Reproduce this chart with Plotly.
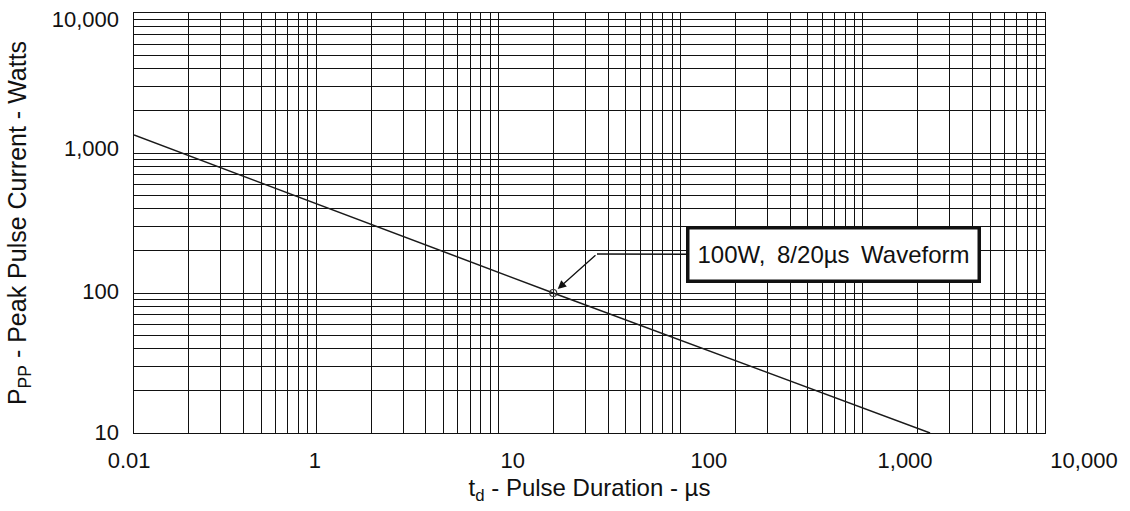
import plotly.graph_objects as go

# Curve data (pulse duration in µs, peak pulse power in W)
t_us = [0.1, 20, 2340]
p_w = [1345, 100, 10]

# Marked operating point
mark_t = [20]
mark_p = [100]

# Tick labels as printed, and where they sit along each axis
x_tick_text = ["0.01", "1", "10", "100", "1,000", "10,000"]
x_tick_at = [0.094, 0.984, 12.0, 143, 1706, 16370]
y_tick_text = ["10,000", "1,000", "100", "10"]
y_tick_at = [9000, 1085, 103, 10.2]

label_text = "100W,\u2009 8/20µs\u2009 Waveform"

FONT = "Liberation Sans, Arial, sans-serif"
W, H = 1130, 511
ML, MR, MT, MB = 100, 20, 7, 78
FRAME_L, FRAME_R = 134, 1045
plot_w = W - ML - MR
d0 = (FRAME_L - ML) / plot_w
d1 = (FRAME_R - ML) / plot_w
dec_px = (FRAME_R - FRAME_L) / 5.0
x2_lo = -1 - (FRAME_L - ML) / dec_px
x2_hi = -1 + (W - MR - FRAME_L) / dec_px

fig = go.Figure()
fig.add_trace(go.Scatter(x=t_us, y=p_w, mode="lines",
                         line=dict(color="#1a1a1a", width=1.5),
                         hoverinfo="skip", showlegend=False))
fig.add_trace(go.Scatter(x=mark_t, y=mark_p, mode="markers",
                         marker=dict(symbol="circle-open", size=7,
                                     color="#333", line=dict(width=1.2)),
                         hoverinfo="skip", showlegend=False))
# dummy traces so label axes are drawn
fig.add_trace(go.Scatter(x=[None], y=[None], xaxis="x2", yaxis="y3",
                         showlegend=False, hoverinfo="skip"))
fig.add_trace(go.Scatter(x=[None], y=[None], xaxis="x", yaxis="y2",
                         showlegend=False, hoverinfo="skip"))

grid = dict(showgrid=True, gridcolor="#111", gridwidth=1,
            showline=True, linecolor="#111", linewidth=1, mirror=True,
            ticks="", showticklabels=False, zeroline=False, dtick="D1")

tail_lx, tail_ly = 1.541, 2.279  # log coords of the arrow bend

fig.update_layout(
    width=W, height=H,
    margin=dict(l=ML, r=MR, t=MT, b=MB),
    paper_bgcolor="white", plot_bgcolor="rgba(0,0,0,0)",
    font=dict(family=FONT, color="#111"),
    xaxis=dict(type="log", range=[-1, 4], domain=[d0, d1], anchor="y", **grid,
               title=dict(text="t<sub>d</sub> - Pulse Duration - µs",
                          font=dict(size=24), standoff=46)),
    yaxis=dict(type="log", range=[1, 4], domain=[0, 1], anchor="x", **grid,
               title=dict(text="P<sub>PP</sub> - Peak Pulse Current - Watts",
                          font=dict(size=25), standoff=99)),
    xaxis2=dict(type="log", range=[x2_lo, x2_hi], domain=[0, 1],
                anchor="y3", side="bottom", showgrid=False, showline=False,
                zeroline=False, ticks="", tickmode="array",
                tickvals=x_tick_at, ticktext=x_tick_text,
                tickfont=dict(size=22), ticklabelstandoff=12),
    yaxis2=dict(type="log", range=[1, 4], overlaying="y", side="left",
                anchor="x", showgrid=False, showline=False, zeroline=False,
                ticks="", tickmode="array", tickvals=y_tick_at,
                ticktext=y_tick_text, tickfont=dict(size=22),
                ticklabelstandoff=14),
    yaxis3=dict(type="log", range=[1, 4], domain=[0, 1], anchor="x2",
                showgrid=False, showline=False, zeroline=False, ticks="",
                showticklabels=False),
    annotations=[
        dict(x=1.30103, y=2, xref="x", yref="y", text="",
             showarrow=True, axref="x", ayref="y", ax=tail_lx, ay=tail_ly,
             arrowhead=2, arrowsize=1.3, arrowwidth=1.3, arrowcolor="#111",
             standoff=6),
        dict(x=tail_lx, y=tail_ly, xref="x", yref="y", text=label_text,
             showarrow=True, ax=237, ay=1, arrowhead=0, arrowwidth=1.5,
             arrowcolor="#111", font=dict(size=24, color="#111"),
             bgcolor="white", bordercolor="#111", borderwidth=3.5,
             borderpad=8, width=272, height=34),
    ],
)

fig.write_html("out.html")
